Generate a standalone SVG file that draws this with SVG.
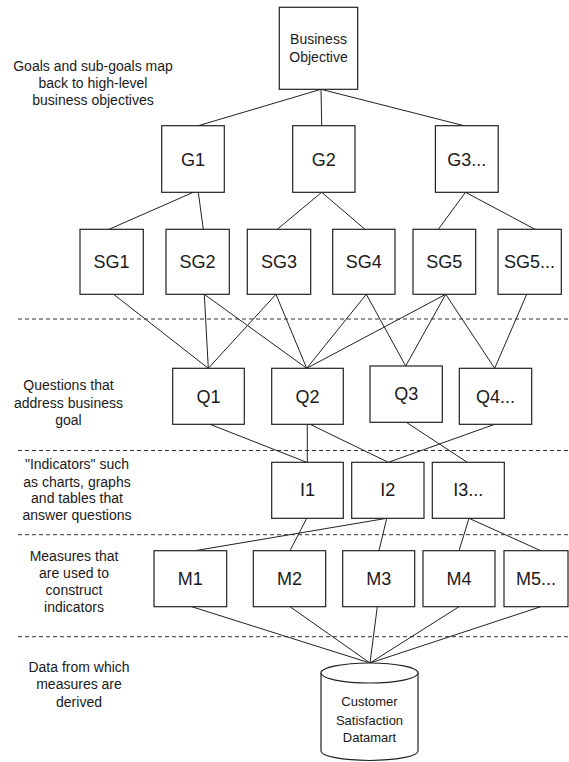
<svg xmlns="http://www.w3.org/2000/svg" width="569" height="762" viewBox="0 0 569 762">
<style>
.box{fill:#fff;stroke:#222;stroke-width:1.2}
.lbl{font-family:"Liberation Sans",Arial,sans-serif;font-size:18px;fill:#1a1a1a;text-anchor:middle}
.sm{font-family:"Liberation Sans",Arial,sans-serif;font-size:14px;fill:#1a1a1a;text-anchor:middle}
.db{font-family:"Liberation Sans",Arial,sans-serif;font-size:13px;fill:#1a1a1a;text-anchor:middle}
.conn line{stroke:#222;stroke-width:1}
.dash{stroke:#333;stroke-width:1;stroke-dasharray:4 3}
</style>
<rect width="569" height="762" fill="#fff"/>
<g id="separators">
<line class="dash" x1="18" y1="319" x2="569" y2="319"/>
<line class="dash" x1="18" y1="450.5" x2="569" y2="450.5"/>
<line class="dash" x1="18" y1="534.7" x2="569" y2="534.7"/>
<line class="dash" x1="18" y1="636.7" x2="569" y2="636.7"/>
</g>
<g id="annotations">
<text class="sm" x="93" y="70.5">Goals and sub-goals map</text>
<text class="sm" x="93" y="88">back to high-level</text>
<text class="sm" x="93" y="105.3">business objectives</text>
<text class="sm" x="68.5" y="390">Questions that</text>
<text class="sm" x="68.5" y="407.5">address business</text>
<text class="sm" x="68.5" y="425">goal</text>
<text class="sm" x="77" y="469">"Indicators" such</text>
<text class="sm" x="77" y="486.5">as charts, graphs</text>
<text class="sm" x="77" y="503.3">and tables that</text>
<text class="sm" x="77" y="520">answer questions</text>
<text class="sm" x="74" y="561">Measures that</text>
<text class="sm" x="74" y="577.7">are used to</text>
<text class="sm" x="74" y="595">construct</text>
<text class="sm" x="74" y="611.7">indicators</text>
<text class="sm" x="79" y="671.7">Data from which</text>
<text class="sm" x="79" y="689.3">measures are</text>
<text class="sm" x="79" y="706.7">derived</text>
</g>
<g id="connectors" class="conn">
<line x1="321" y1="89.3" x2="198.3" y2="125.7"/>
<line x1="321" y1="89.3" x2="321.7" y2="125.7"/>
<line x1="321" y1="89.3" x2="464" y2="125.7"/>
<line x1="193.3" y1="192.3" x2="109" y2="229.3"/>
<line x1="198.3" y1="192.3" x2="203.3" y2="229.3"/>
<line x1="321.7" y1="192.3" x2="277.3" y2="229.3"/>
<line x1="321.7" y1="192.3" x2="365" y2="229.3"/>
<line x1="465.5" y1="192.3" x2="438.3" y2="229.3"/>
<line x1="465.5" y1="192.3" x2="535" y2="229.3"/>
<line x1="113.6" y1="294.3" x2="208.3" y2="368.3"/>
<line x1="204.3" y1="294.3" x2="208.3" y2="368.3"/>
<line x1="204.3" y1="294.3" x2="306.7" y2="368.3"/>
<line x1="276" y1="294.3" x2="208.3" y2="368.3"/>
<line x1="276" y1="294.3" x2="306.7" y2="368.3"/>
<line x1="366.3" y1="294.3" x2="306.7" y2="368.3"/>
<line x1="366.3" y1="294.3" x2="405.7" y2="366"/>
<line x1="445.7" y1="294.3" x2="306.7" y2="368.3"/>
<line x1="445.7" y1="294.3" x2="405.7" y2="366"/>
<line x1="445.7" y1="294.3" x2="494.7" y2="368.3"/>
<line x1="526.7" y1="294.3" x2="494.7" y2="368.3"/>
<line x1="210" y1="424.3" x2="306.7" y2="462.3"/>
<line x1="307.3" y1="424.3" x2="307.3" y2="462.3"/>
<line x1="310" y1="424.3" x2="388.3" y2="462.3"/>
<line x1="406.3" y1="422.3" x2="467.3" y2="462.3"/>
<line x1="494.7" y1="424.3" x2="388.3" y2="462.3"/>
<line x1="306.7" y1="518.3" x2="290" y2="550.7"/>
<line x1="386.7" y1="518.3" x2="195" y2="550.7"/>
<line x1="386.7" y1="518.3" x2="379" y2="550.7"/>
<line x1="469" y1="518.3" x2="459" y2="550.7"/>
<line x1="469" y1="518.3" x2="540.7" y2="550.7"/>
<line x1="191.7" y1="606.7" x2="370" y2="663"/>
<line x1="290" y1="606.7" x2="370" y2="663"/>
<line x1="377.3" y1="606.7" x2="370" y2="663"/>
<line x1="459" y1="606.7" x2="370" y2="663"/>
<line x1="540.7" y1="606.7" x2="370" y2="663"/>
</g>
<g id="BO"><rect class="box" x="279.3" y="7.3" width="78.4" height="82"/>
<text class="sm" x="318.5" y="44.3">Business</text><text class="sm" x="318.5" y="61.7">Objective</text></g>
<g id="G1"><rect class="box" x="161.7" y="125.7" width="62.6" height="66.6"/><text class="lbl" x="193" y="165.7">G1</text></g>
<g id="G2"><rect class="box" x="292.7" y="125.7" width="62.3" height="66.6"/><text class="lbl" x="323.8" y="165.7">G2</text></g>
<g id="G3"><rect class="box" x="435.4" y="125.7" width="62.8" height="66.6"/><text class="lbl" x="466.8" y="165.7">G3...</text></g>
<g id="SG1"><rect class="box" x="80" y="229.3" width="63.3" height="65"/><text class="lbl" x="111.6" y="268">SG1</text></g>
<g id="SG2"><rect class="box" x="166" y="229.3" width="63.3" height="65"/><text class="lbl" x="197.6" y="268">SG2</text></g>
<g id="SG3"><rect class="box" x="247.3" y="229.3" width="63.4" height="65"/><text class="lbl" x="279" y="268">SG3</text></g>
<g id="SG4"><rect class="box" x="332.7" y="229.3" width="62.3" height="65"/><text class="lbl" x="363.8" y="268">SG4</text></g>
<g id="SG5"><rect class="box" x="413" y="229.3" width="62.7" height="65"/><text class="lbl" x="444.3" y="268">SG5</text></g>
<g id="SG6"><rect class="box" x="498" y="229.3" width="63.3" height="65"/><text class="lbl" x="529.6" y="268">SG5...</text></g>
<g id="Q1"><rect class="box" x="172.7" y="368.3" width="71.6" height="56"/><text class="lbl" x="208.5" y="403">Q1</text></g>
<g id="Q2"><rect class="box" x="271.7" y="368.3" width="71.6" height="56"/><text class="lbl" x="307.5" y="403">Q2</text></g>
<g id="Q3"><rect class="box" x="370" y="366" width="72.3" height="56.3"/><text class="lbl" x="406.2" y="400.4">Q3</text></g>
<g id="Q4"><rect class="box" x="459.3" y="368.3" width="72.4" height="56"/><text class="lbl" x="495.5" y="403">Q4...</text></g>
<g id="I1"><rect class="box" x="271.7" y="462.3" width="71.6" height="56"/><text class="lbl" x="307.5" y="496.4">I1</text></g>
<g id="I2"><rect class="box" x="351.7" y="462.3" width="72.3" height="56"/><text class="lbl" x="387.8" y="496.4">I2</text></g>
<g id="I3"><rect class="box" x="432.3" y="462.3" width="72" height="56"/><text class="lbl" x="468.3" y="496.4">I3...</text></g>
<g id="M1"><rect class="box" x="154" y="550.7" width="72.7" height="56"/><text class="lbl" x="190.3" y="584.7">M1</text></g>
<g id="M2"><rect class="box" x="253.3" y="550.7" width="72.4" height="56"/><text class="lbl" x="289.5" y="584.7">M2</text></g>
<g id="M3"><rect class="box" x="342.7" y="550.7" width="72" height="56"/><text class="lbl" x="378.7" y="584.7">M3</text></g>
<g id="M4"><rect class="box" x="423" y="550.7" width="72" height="56"/><text class="lbl" x="459" y="584.7">M4</text></g>
<g id="M5"><rect class="box" x="504" y="550.7" width="64" height="56"/><text class="lbl" x="536" y="584.7">M5...</text></g>
<g id="DB">
<path class="box" d="M321,673 L321,751 A48.5,9.5 0 0 0 418,751 L418,673"/>
<ellipse class="box" cx="369.5" cy="673" rx="48.5" ry="10"/>
<text class="db" x="369.5" y="706.3">Customer</text>
<text class="db" x="369.5" y="724.7">Satisfaction</text>
<text class="db" x="369.5" y="742">Datamart</text>
</g>
</svg>
